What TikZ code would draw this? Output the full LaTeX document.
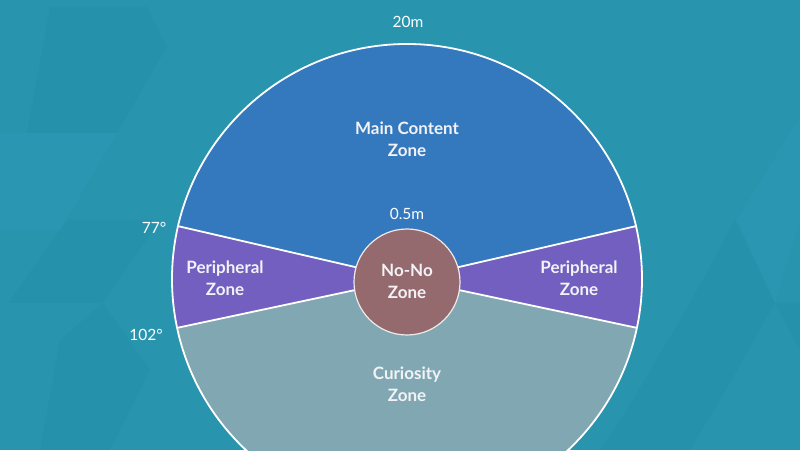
\documentclass[tikz,border=0pt]{standalone}
\usepackage{fontspec}
\setmainfont{Lato}
\newfontfamily\zonefont{Lato}[UprightFont={* Bold}]
\definecolor{bgteal}{HTML}{2894AE}
\definecolor{tridark}{HTML}{1E7F98}
\definecolor{trilight}{HTML}{3AA8C8}
\definecolor{mainblue}{HTML}{3478BD}
\definecolor{periph}{HTML}{725FBF}
\definecolor{curio}{HTML}{81A8B2}
\definecolor{nono}{HTML}{946A6E}
\definecolor{txt}{HTML}{F2F2F7}
\begin{document}
\begin{tikzpicture}[x=1pt,y=1pt,
  zonelabel/.style={font=\zonefont\fontsize{17}{22}\selectfont, text=txt, align=center, inner sep=0pt},
  measlabel/.style={font=\fontsize{15.5}{18}\selectfont, text=white, inner sep=0pt},
  border/.style={draw=white, line width=1.8pt},
  shade1/.style={fill=tridark, fill opacity=0.12, draw=none},
  shade2/.style={fill=trilight, fill opacity=0.15, draw=none}]
\useasboundingbox (0,0) rectangle (800,450);
\begin{scope}
\clip (0,0) rectangle (800,450);
\fill[bgteal] (0,0) rectangle (800,450);
% faint background triangles
\fill[shade1] (50,443) -- (147,443) -- (167,403) -- (117,317) -- (27,317) -- cycle;
\fill[shade2] (0,317) -- (117,317) -- (60,220) -- (0,220) -- cycle;
\fill[shade1] (8,147) -- (67,230) -- (160,230) -- (103,147) -- cycle;
\fill[shade1] (60,110) -- (103,147) -- (150,80) -- (110,0) -- (40,0) -- cycle;
\fill[shade1] (690,147) -- (735,230) -- (775,147) -- cycle;
\fill[shade2] (737,230) -- (800,230) -- (800,330) -- (790,317) -- cycle;
\fill[shade2] (737,230) -- (800,230) -- (775,147) -- cycle;
\fill[shade1] (633,50) -- (690,147) -- (775,147) -- (720,50) -- (690,0) -- (600,0) -- cycle;
\fill[shade1] (775,147) -- (800,147) -- (800,100) -- cycle;
% zones
\coordinate (C) at (407,171);
\fill[mainblue] (C) -- ++(13:235) arc[start angle=13, end angle=167, radius=235] -- cycle;
\fill[periph] (C) -- ++(167:235) arc[start angle=167, end angle=192, radius=235] -- cycle;
\fill[periph] (C) -- ++(-12:235) arc[start angle=-12, end angle=13, radius=235] -- cycle;
\fill[curio] (C) -- ++(192:235) arc[start angle=192, end angle=348, radius=235] -- cycle;
\draw[border] (C) circle[radius=235];
\draw[border] (C) -- ++(13:235);
\draw[border] (C) -- ++(167:235);
\draw[border] (C) -- ++(192:235);
\draw[border] (C) -- ++(-12:235);
\coordinate (S) at (407,168);
\fill[nono] (S) circle[radius=53];
\draw[draw=white!85!nono, line width=1.2pt] (S) circle[radius=53];
\end{scope}
% labels
\node[zonelabel] (main) at (407,311) {Main Content\\Zone};
\node[zonelabel] (perl) at (225,172) {Peripheral\\Zone};
\node[zonelabel] (perr) at (579,172) {Peripheral\\Zone};
\node[zonelabel] (nono) at (407,169) {No-No\\Zone};
\node[zonelabel] (cur) at (407,66) {Curiosity\\Zone};
\node[measlabel] (m20) at (408,428) {20m};
\node[measlabel] (m05) at (407,236) {0.5m};
\node[measlabel] (a77) at (154,222) {77°};
\node[measlabel] (a102) at (146,115) {102°};
\end{tikzpicture}
\end{document}
